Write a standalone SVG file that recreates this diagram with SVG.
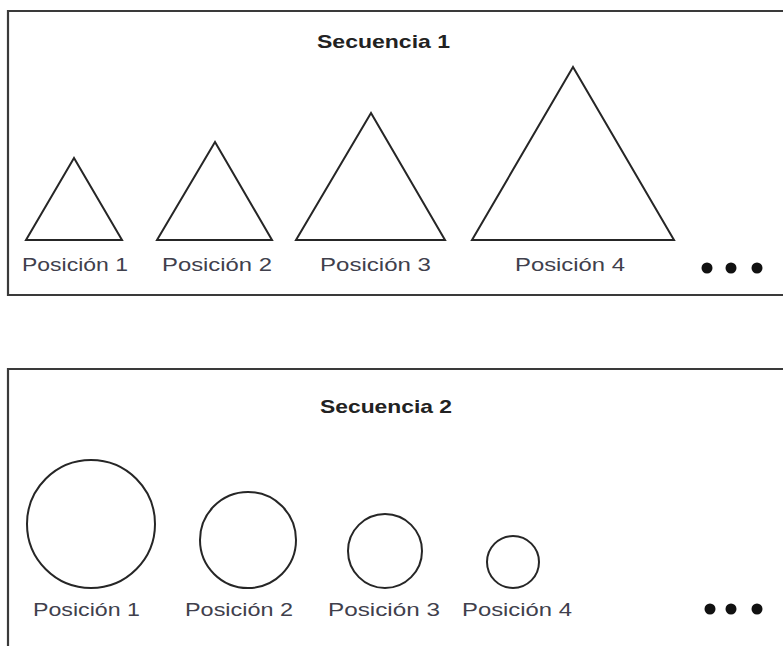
<svg xmlns="http://www.w3.org/2000/svg" width="783" height="646" viewBox="0 0 783 646">
<style>
.frame{fill:none;stroke:#3a3a3a;stroke-width:2.2}
.shape{fill:none;stroke:#262626;stroke-width:2}
.title{font-family:"Liberation Sans",Arial,sans-serif;font-weight:bold;font-size:19px;fill:#222}
.lbl{font-family:"Liberation Sans",Arial,sans-serif;font-size:19px;fill:#40404c}
.dot{fill:#111}
</style>
<rect width="783" height="646" fill="#fff"/>
<g id="secuencia1">
<path class="frame" d="M790 11 H8 V295 H790"/>
<text class="title" x="317" y="48" textLength="133" lengthAdjust="spacingAndGlyphs">Secuencia 1</text>
<g id="s1-pos1"><polygon class="shape" points="74,158 26,240 122,240"/><text class="lbl" x="22" y="271" textLength="106" lengthAdjust="spacingAndGlyphs">Posición 1</text></g>
<g id="s1-pos2"><polygon class="shape" points="215,142 157,240 272,240"/><text class="lbl" x="162" y="271" textLength="110" lengthAdjust="spacingAndGlyphs">Posición 2</text></g>
<g id="s1-pos3"><polygon class="shape" points="371,113 296,240 445,240"/><text class="lbl" x="320" y="271" textLength="111" lengthAdjust="spacingAndGlyphs">Posición 3</text></g>
<g id="s1-pos4"><polygon class="shape" points="573,67 472,240 674,240"/><text class="lbl" x="515" y="271" textLength="110" lengthAdjust="spacingAndGlyphs">Posición 4</text></g>
<g id="s1-more"><circle class="dot" cx="707" cy="268" r="5.5"/><circle class="dot" cx="731" cy="268" r="5.5"/><circle class="dot" cx="757" cy="268" r="5.5"/></g>
</g>
<g id="secuencia2">
<path class="frame" d="M790 369 H8 V660"/>
<text class="title" x="320" y="413" textLength="132" lengthAdjust="spacingAndGlyphs">Secuencia 2</text>
<g id="s2-pos1"><circle class="shape" cx="91" cy="524" r="64"/><text class="lbl" x="33" y="616" textLength="107" lengthAdjust="spacingAndGlyphs">Posición 1</text></g>
<g id="s2-pos2"><circle class="shape" cx="248" cy="540" r="48"/><text class="lbl" x="185" y="616" textLength="108" lengthAdjust="spacingAndGlyphs">Posición 2</text></g>
<g id="s2-pos3"><circle class="shape" cx="385" cy="551" r="37"/><text class="lbl" x="328" y="616" textLength="112" lengthAdjust="spacingAndGlyphs">Posición 3</text></g>
<g id="s2-pos4"><circle class="shape" cx="513" cy="562" r="26"/><text class="lbl" x="462" y="616" textLength="110" lengthAdjust="spacingAndGlyphs">Posición 4</text></g>
<g id="s2-more"><circle class="dot" cx="710" cy="609" r="5.5"/><circle class="dot" cx="731" cy="609" r="5.5"/><circle class="dot" cx="757" cy="609" r="5.5"/></g>
</g>
<g id="connectors"/>
</svg>
